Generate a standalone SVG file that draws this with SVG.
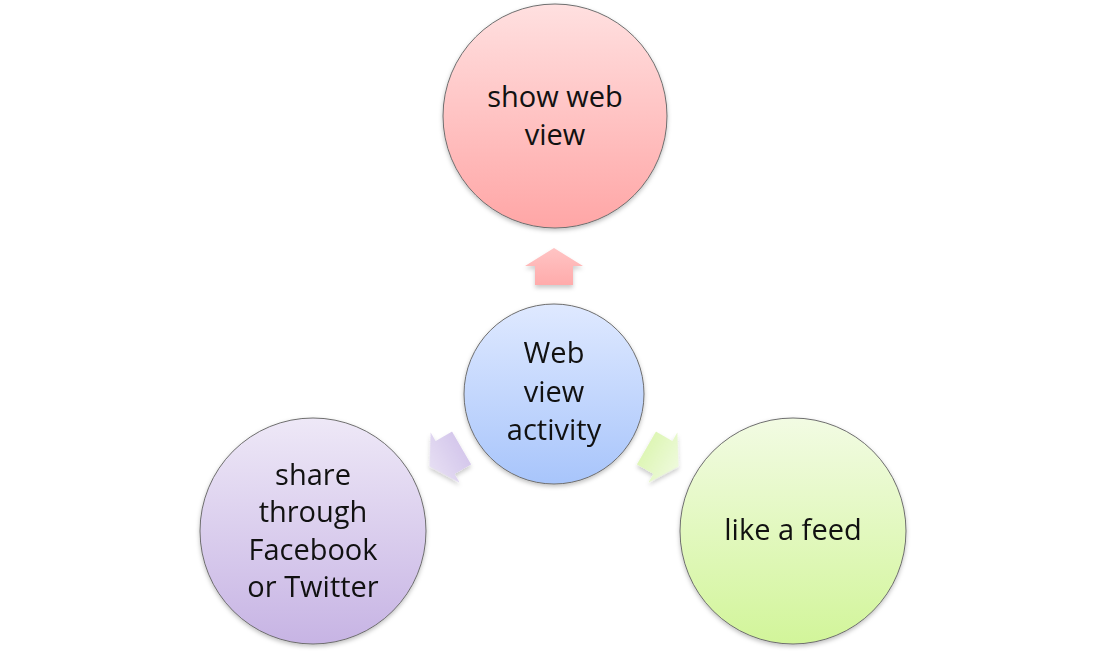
<svg xmlns="http://www.w3.org/2000/svg" width="1107" height="658" viewBox="0 0 1107 658">
<defs>
<linearGradient id="gRed" x1="0" y1="0" x2="0" y2="1"><stop offset="0" stop-color="#ffe0e0"/><stop offset="1" stop-color="#ffa6a6"/></linearGradient>
<linearGradient id="gBlue" x1="0" y1="0" x2="0" y2="1"><stop offset="0" stop-color="#dfe9ff"/><stop offset="1" stop-color="#a8c5fb"/></linearGradient>
<linearGradient id="gPurple" x1="0" y1="0" x2="0" y2="1"><stop offset="0" stop-color="#eee8f7"/><stop offset="1" stop-color="#c7b4e4"/></linearGradient>
<linearGradient id="gGreen" x1="0" y1="0" x2="0" y2="1"><stop offset="0" stop-color="#f2fbe3"/><stop offset="1" stop-color="#d2f59a"/></linearGradient>
<linearGradient id="aRed" x1="0" y1="0" x2="0" y2="1"><stop offset="0" stop-color="#ffc4c4"/><stop offset="1" stop-color="#ffabab"/></linearGradient>
<linearGradient id="aPurple" x1="0" y1="0" x2="0" y2="1"><stop offset="0" stop-color="#e6def3"/><stop offset="1" stop-color="#d5c8ec"/></linearGradient>
<linearGradient id="aGreen" x1="0" y1="0" x2="0" y2="1"><stop offset="0" stop-color="#eefadb"/><stop offset="1" stop-color="#def6b6"/></linearGradient>
<filter id="sh" x="-20%" y="-20%" width="140%" height="140%"><feDropShadow dx="0" dy="2" stdDeviation="2" flood-color="#000" flood-opacity="0.25"/></filter>
<filter id="ash" x="-40%" y="-40%" width="180%" height="180%"><feDropShadow dx="0" dy="3" stdDeviation="2" flood-color="#000" flood-opacity="0.2"/></filter>
<path id="arrow" d="M0,-19 L29,-1 L19,-1 L19,18 L-19,18 L-19,-1 L-29,-1 Z"/>
</defs>
<style>
.node circle{stroke:#6e6e6e;stroke-width:1}
.label{font-family:"Open Sans","Liberation Sans",sans-serif;font-size:29px;fill:#111;text-anchor:middle}
</style>
<rect width="1107" height="658" fill="#ffffff"/>
<g id="connectors" filter="url(#ash)">
<use href="#arrow" fill="url(#aRed)" transform="translate(554,267)"/>
<use href="#arrow" fill="url(#aPurple)" transform="translate(446,457) rotate(-120)"/>
<use href="#arrow" fill="url(#aGreen)" transform="translate(662,457) rotate(120)"/>
</g>
<g id="node-show" class="node">
<circle cx="555" cy="116" r="112" fill="url(#gRed)" filter="url(#sh)"/>
<text class="label" x="555" y="107">show web</text>
<text class="label" x="555" y="145">view</text>
</g>
<g id="node-center" class="node">
<circle cx="554" cy="394" r="90" fill="url(#gBlue)" filter="url(#sh)"/>
<text class="label" x="554" y="363">Web</text>
<text class="label" x="554" y="402">view</text>
<text class="label" x="554" y="440">activity</text>
</g>
<g id="node-share" class="node">
<circle cx="313" cy="531" r="113" fill="url(#gPurple)" filter="url(#sh)"/>
<text class="label" x="313" y="485">share</text>
<text class="label" x="313" y="522">through</text>
<text class="label" x="313" y="560">Facebook</text>
<text class="label" x="313" y="597">or Twitter</text>
</g>
<g id="node-like" class="node">
<circle cx="793" cy="531" r="113" fill="url(#gGreen)" filter="url(#sh)"/>
<text class="label" x="793" y="540">like a feed</text>
</g>
</svg>
